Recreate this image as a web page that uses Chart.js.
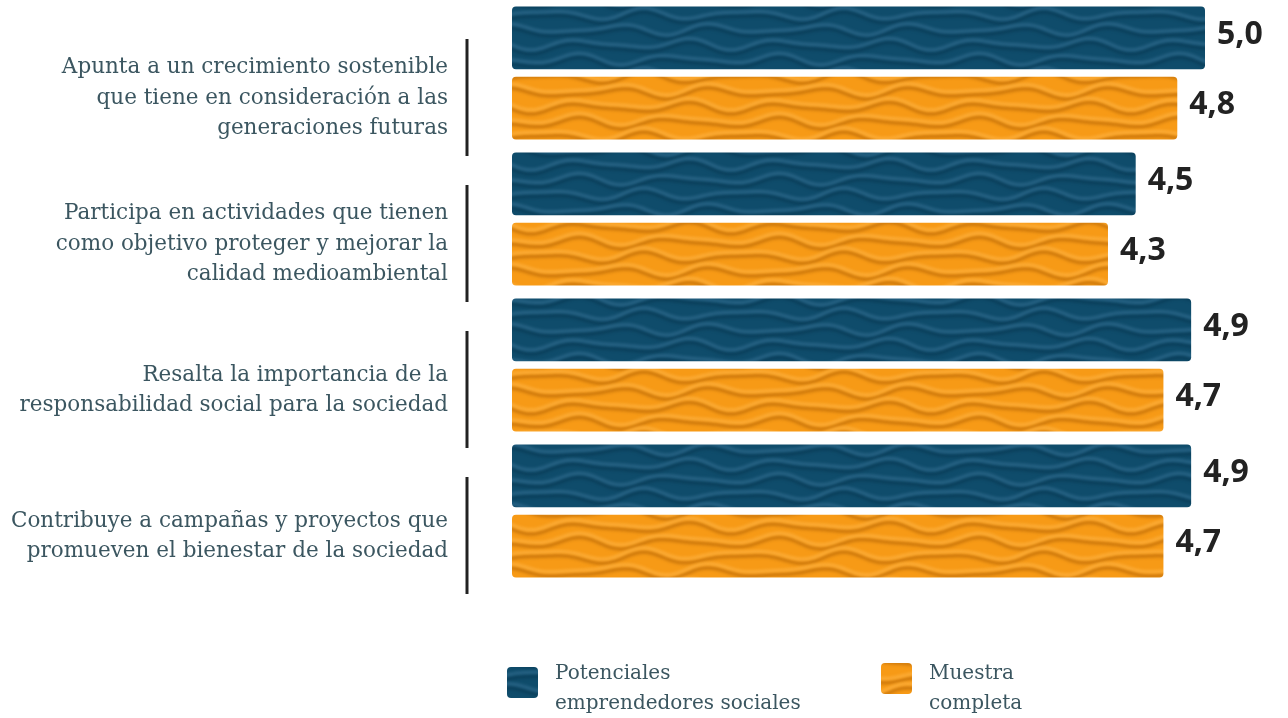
<!DOCTYPE html>
<html>
<head>
<meta charset="utf-8">
<script src="https://cdn.jsdelivr.net/npm/chart.js@4"></script>
<style>
  body { margin: 0; background: #fff; }
  #wrap { width: 1288px; height: 718px; position: relative; }
</style>
</head>
<body>
<div id="wrap"><canvas id="chart"></canvas></div>
<script>
const categories = [
  ['Apunta a un crecimiento sostenible', 'que tiene en consideración a las', 'generaciones futuras'],
  ['Participa en actividades que tienen', 'como objetivo proteger y mejorar la', 'calidad medioambiental'],
  ['Resalta la importancia de la', 'responsabilidad social para la sociedad'],
  ['Contribuye a campañas y proyectos que', 'promueven el bienestar de la sociedad']
];
const potenciales = [5.0, 4.5, 4.9, 4.9];
const muestra = [4.8, 4.3, 4.7, 4.7];
const seriesNames = [['Potenciales', 'emprendedores sociales'], ['Muestra', 'completa']];

const textColor = '#3b5660';

// soft wavy texture used to fill the bars
function wavePattern(base, light, dark) {
  const W = 200, H = 60;
  const c = document.createElement('canvas');
  c.width = W; c.height = H;
  const g = c.getContext('2d');
  g.fillStyle = base;
  g.fillRect(0, 0, W, H);
  g.filter = 'blur(1.6px)';
  const rows = [0, 15, 30, 45];
  rows.forEach((y0, r) => {
    [-H, 0, H].forEach(shift => {
      const wave = x => y0 + shift + 4 * Math.sin(2 * Math.PI * x / 100 + r * 1.9) + 2 * Math.sin(2 * Math.PI * x * 3 / W + r * 0.7);
      g.beginPath();
      for (let x = -10; x <= W + 10; x += 2) g.lineTo(x, wave(x) + 3);
      g.strokeStyle = dark; g.lineWidth = 4; g.stroke();
      g.beginPath();
      for (let x = -10; x <= W + 10; x += 2) g.lineTo(x, wave(x) - 1);
      g.strokeStyle = light; g.lineWidth = 3; g.stroke();
    });
  });
  return g.createPattern(c, 'repeat');
}

const bluePattern = wavePattern('#0f4c6b', '#2a6587', '#0b405c');
const orangePattern = wavePattern('#f79a16', '#fdae3a', '#cf7a0c');

const separators = {
  id: 'separators',
  afterDraw(chart) {
    const ctx = chart.ctx;
    const y = chart.scales.y;
    ctx.save();
    ctx.strokeStyle = '#222';
    ctx.lineWidth = 3;
    categories.forEach((c, i) => {
      const cy = y.getPixelForValue(i) + 24;
      ctx.beginPath();
      ctx.moveTo(467, cy - 58);
      ctx.lineTo(467, cy + 59);
      ctx.stroke();
    });
    ctx.restore();
  }
};

const valueLabels = {
  id: 'valueLabels',
  afterDatasetsDraw(chart) {
    const ctx = chart.ctx;
    ctx.save();
    ctx.font = 'bold 32px "Open Sans"';
    ctx.fillStyle = '#222';
    ctx.textBaseline = 'middle';
    chart.data.datasets.forEach((ds, di) => {
      chart.getDatasetMeta(di).data.forEach((bar, i) => {
        ctx.fillText(ds.data[i].toFixed(1).replace('.', ','), bar.x + 12, bar.y - 3);
      });
    });
    ctx.restore();
  }
};

const legendBox = {
  id: 'legendBox',
  afterDraw(chart) {
    const ctx = chart.ctx;
    const items = [
      { x: 507, y: 667, fill: bluePattern, name: seriesNames[0] },
      { x: 881, y: 663, fill: orangePattern, name: seriesNames[1] }
    ];
    ctx.save();
    items.forEach(it => {
      ctx.fillStyle = it.fill;
      ctx.beginPath();
      ctx.roundRect(it.x, it.y, 31, 31, 4);
      ctx.fill();
      ctx.fillStyle = textColor;
      ctx.font = '20px "DejaVu Serif"';
      ctx.textBaseline = 'middle';
      it.name.forEach((line, k) => ctx.fillText(line, it.x + 48, 674 + k * 30));
    });
    ctx.restore();
  }
};

new Chart(document.getElementById('chart'), {
  type: 'bar',
  data: {
    labels: categories,
    datasets: [
      { label: seriesNames[0].join(' '), data: potenciales, backgroundColor: bluePattern },
      { label: seriesNames[1].join(' '), data: muestra, backgroundColor: orangePattern }
    ]
  },
  options: {
    indexAxis: 'y',
    responsive: true,
    maintainAspectRatio: false,
    animation: false,
    layout: { padding: { top: 0, right: 83, bottom: 134, left: 0 } },
    datasets: {
      bar: { categoryPercentage: 0.965, barPercentage: 0.89, borderRadius: 4, borderSkipped: false }
    },
    scales: {
      x: { display: false, min: 0, max: 5 },
      y: {
        afterFit(scale) {
          scale.width = 512;
          scale.paddingTop = 0;
          scale.paddingBottom = 0;
        },
        grid: { display: false, drawTicks: false },
        border: { display: false },
        ticks: {
          padding: 64,
          labelOffset: 25,
          color: textColor,
          font: { family: 'DejaVu Serif', size: 21.5, lineHeight: 1.4 }
        }
      }
    },
    plugins: {
      legend: { display: false },
      tooltip: { enabled: false }
    }
  },
  plugins: [separators, valueLabels, legendBox]
});
</script>
</body>
</html>
